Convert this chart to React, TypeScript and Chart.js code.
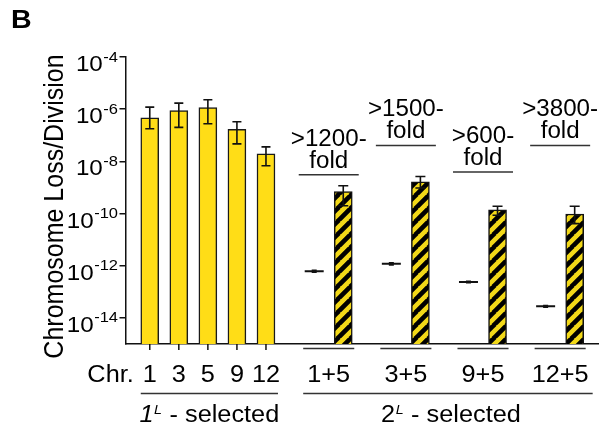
import React, { useEffect, useRef } from 'react';
import { Chart, registerables } from 'chart.js';

Chart.register(...registerables);

// ---------- data ----------
const singleLabels = ['1', '3', '5', '9', '12'];
const singleMeans = [4.7e-7, 8.9e-7, 1.15e-6, 1.7e-7, 1.95e-8];
const singleErrLow = [1.78e-7, 2.0e-7, 2.75e-7, 4.7e-8, 6.8e-9];
const singleErrHigh = [1.2e-6, 1.7e-6, 2.3e-6, 3.3e-7, 3.6e-8];

const pairLabels = ['1+5', '3+5', '9+5', '12+5'];
const controlMeans = [6.2e-13, 1.2e-12, 2.4e-13, 2.8e-14];
const controlErrLow = [5.7e-13, 1.08e-12, 2.25e-13, 2.6e-14];
const controlErrHigh = [6.7e-13, 1.3e-12, 2.55e-13, 3.0e-14];
const dicentricMeans = [6.9e-10, 1.66e-9, 1.38e-10, 9.6e-11];
const dicentricErrLow = [2.0e-10, 0.95e-9, 8.6e-11, 4.1e-11];
const dicentricErrHigh = [1.17e-9, 2.63e-9, 1.9e-10, 1.9e-10];

const foldLabels = ['>1200-', '>1500-', '>600-', '>3800-'];
const foldLevels = [3.1e-9, 4.1e-8, 3.9e-9, 4.1e-8];

const yTickExponents = [-4, -6, -8, -10, -12, -14];
const yMin = 1e-15;
const yMax = 1e-4;

const groupNumbers = ['1', '2'];
const axisTitle = 'Chromosome Loss/Division';

// ---------- layout helpers (derived from category structure) ----------
const singlePos = (i: number) => i;
const pairStart = 5.66;
const pairPitch = 2.655;
const pairPos = (j: number, k: number) => pairStart + j * pairPitch + k;

const YELLOW = 'rgb(255,221,23)';
const HATCH_YELLOW = 'rgb(242,216,24)';
const FONT = '"Liberation Sans", Arial, Helvetica, sans-serif';
const SX = 1.1; // horizontal text stretch

function makeHatch(): CanvasPattern | string {
  const s = 13;
  const c = document.createElement('canvas');
  c.width = s;
  c.height = s;
  const g = c.getContext('2d');
  if (!g) return HATCH_YELLOW;
  g.fillStyle = HATCH_YELLOW;
  g.fillRect(0, 0, s, s);
  g.strokeStyle = '#000';
  g.lineWidth = 4.6;
  g.beginPath();
  for (const o of [-s, 0, s]) {
    g.moveTo(o - 1, s + 1);
    g.lineTo(o + s + 1, -1);
  }
  g.stroke();
  const p = g.createPattern(c, 'repeat');
  return p || HATCH_YELLOW;
}

function drawText(
  ctx: CanvasRenderingContext2D,
  text: string,
  x: number,
  y: number,
  font: string,
  align: CanvasTextAlign,
  sx = SX
) {
  ctx.save();
  ctx.font = font;
  ctx.textAlign = align;
  ctx.textBaseline = 'alphabetic';
  ctx.translate(x, y);
  ctx.scale(sx, 1);
  ctx.fillText(text, 0, 0);
  ctx.restore();
}

function textWidth(ctx: CanvasRenderingContext2D, text: string, font: string, sx = SX) {
  ctx.save();
  ctx.font = font;
  const w = ctx.measureText(text).width * sx;
  ctx.restore();
  return w;
}

type ErrItem = { x: number; lo: number; hi: number; cap: number };

const errItems: ErrItem[] = [
  ...singleMeans.map((_, i) => ({ x: singlePos(i), lo: singleErrLow[i], hi: singleErrHigh[i], cap: 9 })),
  ...dicentricMeans.map((_, j) => ({ x: pairPos(j, 1), lo: dicentricErrLow[j], hi: dicentricErrHigh[j], cap: 10 })),
  ...controlMeans.map((_, j) => ({ x: pairPos(j, 0), lo: controlErrLow[j], hi: controlErrHigh[j], cap: 5 })),
];

const errorBarPlugin = {
  id: 'errorBars',
  afterDatasetsDraw(chart: any) {
    const ctx: CanvasRenderingContext2D = chart.ctx;
    const xs = chart.scales.x;
    const ys = chart.scales.y;
    ctx.save();
    ctx.strokeStyle = '#111';
    ctx.lineWidth = 1.6;
    errItems.forEach((e) => {
      const x = xs.getPixelForValue(e.x);
      const yl = ys.getPixelForValue(e.lo);
      const yh = ys.getPixelForValue(e.hi);
      ctx.beginPath();
      ctx.moveTo(x, yl);
      ctx.lineTo(x, yh);
      ctx.moveTo(x - e.cap / 2, yh);
      ctx.lineTo(x + e.cap / 2, yh);
      ctx.moveTo(x - e.cap / 2, yl);
      ctx.lineTo(x + e.cap / 2, yl);
      ctx.stroke();
    });
    ctx.restore();
  },
};

const labelPlugin = {
  id: 'labels',
  afterDraw(chart: any) {
    const ctx: CanvasRenderingContext2D = chart.ctx;
    const xs = chart.scales.x;
    const ys = chart.scales.y;
    const area = chart.chartArea;
    ctx.save();
    ctx.fillStyle = '#000';

    // panel letter
    drawText(ctx, 'B', 11, 28, `bold 26px ${FONT}`, 'left');

    // y tick labels with superscripts
    const tickFont = `22px ${FONT}`;
    const supFont = `15px ${FONT}`;
    yTickExponents.forEach((e) => {
      const y = ys.getPixelForValue(Math.pow(10, e));
      const sup = '-' + Math.abs(e);
      const right = area.left - 7.5;
      const ws = textWidth(ctx, sup, supFont);
      drawText(ctx, sup, right - ws, y + 4.5, supFont, 'left');
      drawText(ctx, '10', right - ws - 0.5, y + 14, tickFont, 'right');
    });

    // y axis title
    ctx.save();
    ctx.font = `25px ${FONT}`;
    ctx.textAlign = 'center';
    ctx.textBaseline = 'alphabetic';
    ctx.translate(63, (area.top + area.bottom) / 2 + 6);
    ctx.rotate(-Math.PI / 2);
    ctx.scale(1, SX);
    ctx.fillText(axisTitle, 0, 0);
    ctx.restore();

    const lblFont = `23px ${FONT}`;
    const labelBase = area.bottom + 37.5;
    const lineColor = '#333';

    // singles: ticks and labels
    ctx.strokeStyle = '#111';
    ctx.lineWidth = 1.5;
    singleLabels.forEach((l, i) => {
      const x = xs.getPixelForValue(singlePos(i));
      ctx.beginPath();
      ctx.moveTo(x, area.bottom);
      ctx.lineTo(x, area.bottom + 6);
      ctx.stroke();
      drawText(ctx, l, x, labelBase, lblFont, 'center');
    });
    drawText(ctx, 'Chr.', xs.getPixelForValue(singlePos(0)) - 16, labelBase, lblFont, 'right');

    // pairs: short underlines and labels
    const half = 9;
    ctx.strokeStyle = lineColor;
    ctx.lineWidth = 1.5;
    pairLabels.forEach((l, j) => {
      const x0 = xs.getPixelForValue(pairPos(j, 0));
      const x1 = xs.getPixelForValue(pairPos(j, 1));
      const cx = (x0 + x1) / 2;
      ctx.beginPath();
      ctx.moveTo(x0 - half - 2, area.bottom + 4.5);
      ctx.lineTo(x1 + half + 2, area.bottom + 4.5);
      ctx.stroke();
      drawText(ctx, l, cx, labelBase, lblFont, 'center');

      // fold annotation
      const ly = ys.getPixelForValue(foldLevels[j]);
      ctx.beginPath();
      ctx.moveTo(cx - 30, ly);
      ctx.lineTo(cx + 30, ly);
      ctx.stroke();
      drawText(ctx, foldLabels[j], cx, ly - 29, `23px ${FONT}`, 'center', 1.05);
      drawText(ctx, 'fold', cx, ly - 7, `23px ${FONT}`, 'center', 1.05);
    });

    // group lines and titles
    const groupY = area.bottom + 49.5;
    const titleBase = area.bottom + 78;
    const g1l = xs.getPixelForValue(singlePos(0)) - half;
    const g1r = xs.getPixelForValue(singlePos(singleLabels.length - 1)) + half + 3;
    const g2l = xs.getPixelForValue(pairPos(0, 0)) - half - 2;
    const g2r = xs.getPixelForValue(pairPos(pairLabels.length - 1, 1)) + half + 9;
    [[g1l, g1r], [g2l, g2r]].forEach(([a, b], gi) => {
      ctx.beginPath();
      ctx.moveTo(a, groupY);
      ctx.lineTo(b, groupY);
      ctx.stroke();
      const numFont = gi === 0 ? `italic 23px ${FONT}` : `23px ${FONT}`;
      const supF = `italic 13px ${FONT}`;
      const rest = ' - selected';
      const w1 = textWidth(ctx, groupNumbers[gi], numFont);
      const w2 = textWidth(ctx, 'L', supF);
      const w3 = textWidth(ctx, rest, lblFont);
      const total = w1 + w2 + 1 + w3;
      let x = (a + b) / 2 - total / 2 + (gi === 1 ? 3 : 0);
      drawText(ctx, groupNumbers[gi], x, titleBase, numFont, 'left');
      x += w1 + 0.5;
      drawText(ctx, 'L', x, titleBase - 8, supF, 'left');
      x += w2 + 0.5;
      drawText(ctx, rest, x, titleBase, lblFont, 'left');
    });

    ctx.restore();
  },
};

export default function App() {
  const ref = useRef<HTMLCanvasElement>(null);

  useEffect(() => {
    const canvas = ref.current;
    if (!canvas) return;
    const hatch = makeHatch();

    const chart = new Chart(canvas, {
      type: 'bar',
      data: {
        datasets: [
          {
            type: 'bar',
            label: '1L selected',
            data: singleMeans.map((v, i) => ({ x: singlePos(i), y: v })),
            backgroundColor: YELLOW,
            borderColor: '#1a1a1a',
            borderWidth: 1.5,
            barThickness: 18,
            grouped: false,
          } as any,
          {
            type: 'bar',
            label: '2L selected dicentric',
            data: dicentricMeans.map((v, j) => ({ x: pairPos(j, 1), y: v })),
            backgroundColor: hatch as any,
            borderColor: '#111',
            borderWidth: 1.5,
            barThickness: 18,
            grouped: false,
          } as any,
          {
            type: 'scatter',
            label: 'control',
            data: controlMeans.map((v, j) => ({ x: pairPos(j, 0), y: v })),
            pointStyle: 'line',
            radius: 9.5,
            borderColor: '#111',
            borderWidth: 2,
            showLine: false,
          } as any,
        ],
      },
      options: {
        animation: false,
        responsive: false,
        devicePixelRatio: 1,
        layout: { padding: { left: 0, right: 7, top: 57, bottom: 0 } },
        plugins: {
          legend: { display: false },
          tooltip: { enabled: false },
        },
        scales: {
          x: {
            type: 'linear',
            min: -0.835,
            max: 15.445,
            grid: { display: false },
            border: { display: true, color: '#111', width: 1.5 },
            ticks: { display: false },
            afterBuildTicks: (s: any) => {
              s.ticks = [];
            },
            afterFit: (s: any) => {
              s.height = 88;
            },
          },
          y: {
            type: 'logarithmic',
            min: yMin,
            max: yMax,
            grid: {
              display: true,
              drawOnChartArea: false,
              drawTicks: true,
              tickLength: 6,
              color: '#111',
              lineWidth: 1.5,
            },
            border: { display: true, color: '#111', width: 1.5 },
            ticks: { display: true, callback: () => '' },
            afterBuildTicks: (s: any) => {
              s.ticks = yTickExponents.map((e) => ({ value: Math.pow(10, e) }));
            },
            afterFit: (s: any) => {
              s.width = 125.5;
            },
          },
        } as any,
      },
      plugins: [errorBarPlugin, labelPlugin],
    });

    return () => chart.destroy();
  }, []);

  return (
    <div style={{ position: 'fixed', left: 0, top: 0, width: 610, height: 432, background: '#fff' }}>
      <canvas ref={ref} width={610} height={432} style={{ display: 'block', width: 610, height: 432 }} />
    </div>
  );
}
